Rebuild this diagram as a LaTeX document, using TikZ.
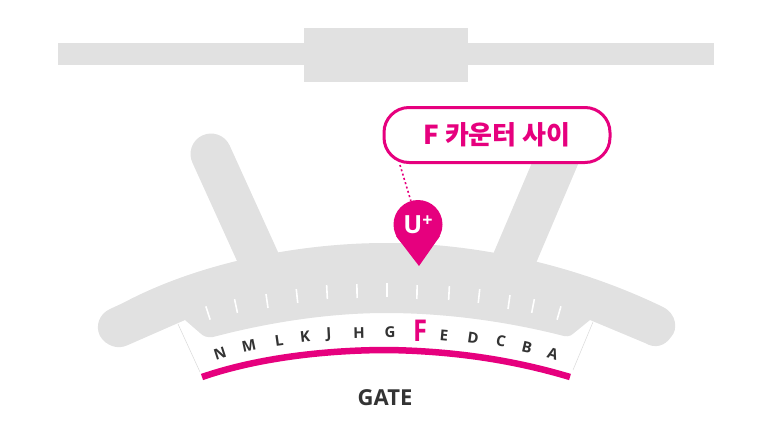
\documentclass[tikz,border=0pt]{standalone}
\usepackage{fontspec}
\setmainfont{Open Sans}
\newfontfamily\kr{Noto Sans CJK KR}
\definecolor{pinkc}{HTML}{E6007E}
\definecolor{grayc}{HTML}{E1E1E1}
\definecolor{inkc}{HTML}{333333}
\tikzset{
  block/.style={fill=grayc,draw=none},
  tickm/.style={draw=white,line width=1.6pt},
  letterm/.style={text=inkc,font=\bfseries\fontsize{15}{15}\selectfont,inner sep=0pt},
  edgem/.style={draw=black!15,line width=0.5pt},
}
\begin{document}
\begin{tikzpicture}[x=1pt,y=-1pt]
\useasboundingbox (0,0) rectangle (772,440);
% top road
\fill[block] (58,43) rectangle (714,65);
\fill[block] (304,28) rectangle (468,82);
% arms
\draw[grayc,line width=41pt,line cap=round] (211,154) -- (260,262);
\draw[grayc,line width=43pt] (508,274) -- (565,140);
% concourse
\fill[block] (123,303) .. controls (200,262) and (300,243) .. (386,243)
  .. controls (470,243) and (570,262) .. (663,307)
  .. controls (677,314) and (678,330) .. (671,337)
  .. controls (665,346) and (655,349) .. (645,343)
  -- (590,320)
  -- (574,333) .. controls (570,337) and (566,337) .. (560,335)
  .. controls (500,320) and (440,313) .. (386,313)
  .. controls (330,313) and (270,322) .. (213,337)
  .. controls (207,338) and (203,336) .. (200,333)
  -- (185,320) -- (128,345)
  .. controls (118,350) and (106,346) .. (100,336)
  .. controls (95,326) and (99,314) .. (110,309) -- cycle;
% gate side edges
\draw[edgem] (178,324) -- (200,372);
\draw[edgem] (593,322) -- (573,370);
% pink gate line
\draw[pinkc,line width=6.5pt] (202,377) .. controls (260,357) and (330,350) .. (388,350)
  .. controls (450,351) and (510,359) .. (570,377);
% ticks
\foreach \x/\y/\a in {208/313/18,236/306/12,267/301/8,297/296/6,327/292/3,357/291/1,387/290/0,417/292/-1,449/293/-3,479/296/-6,509/302/-8,533/306/-11,559/313/-16}{
  \draw[tickm] (\x,\y) ++(90-\a:-7) -- ++(90-\a:14);
}
% letters
\foreach \n/\t/\x/\y/\a in {ln/N/220/354/18,lm/M/249/346/12,ll/L/279/341/8,lk/K/305/337/6,lj/J/329/335/3,lh/H/359/333/1,lg/G/390/332/0,le/E/444/336/-5,ld/D/473/338/-8,lc/C/501/341/-10,lb/B/527/347/-13,la/A/553/354/-17}{
  \node[letterm,rotate=\a] (\n) at (\x,\y) {\t};
}
\node[letterm,text=pinkc,font=\bfseries\fontsize{30}{30}\selectfont,xscale=0.85] (lf) at (420,331) {F};
\node[text=inkc,font=\bfseries\fontsize{22}{22}\selectfont,inner sep=0pt] (gate) at (385,398) {GATE};
% callout and pin
\node[draw=pinkc,fill=white,line width=3pt,rounded corners=25pt,minimum width=226pt,minimum height=55pt,inner sep=0pt,text=pinkc,font=\kr\bfseries\fontsize{26}{26}\selectfont] (callout) at (497,135) {F 카운터 사이};
\fill[pinkc] (419,266) -- (396,236) -- (440,236) -- cycle;
\node[circle,fill=pinkc,minimum size=49pt,inner sep=0pt,text=white,font=\bfseries\fontsize{25}{25}\selectfont] (pin) at (418,224.5) {U\raisebox{7pt}{\fontsize{18}{18}\selectfont +}};
\coordinate (foot) at (400,165);
\draw[pinkc,line width=1.6pt,dash pattern=on 2pt off 2.5pt] (foot) -- (pin);
\end{tikzpicture}
\end{document}
